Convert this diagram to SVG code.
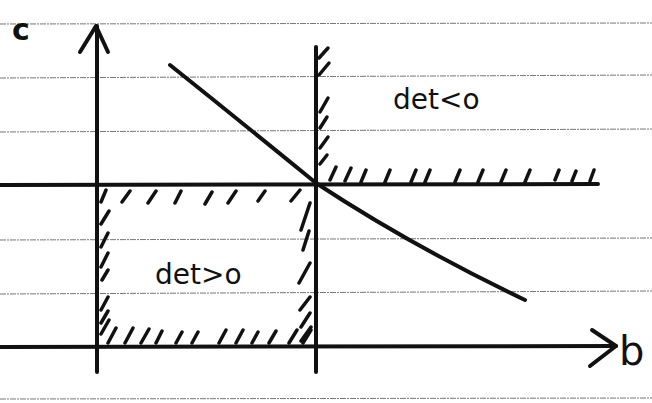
<svg xmlns="http://www.w3.org/2000/svg" width="652" height="403" viewBox="0 0 652 403">
<style>
.rule{stroke:#777;stroke-width:1;stroke-dasharray:6 1 2 1}
.ax{stroke:#111;stroke-width:4;fill:none;stroke-linecap:round;stroke-linejoin:round}
.h{stroke:#111;stroke-width:3.5;stroke-linecap:round;fill:none}
.t{font-family:"DejaVu Sans",sans-serif;fill:#111}
</style>
<rect width="652" height="403" fill="#fff"/>
<g id="rules">
<line class="rule" x1="0" y1="24" x2="652" y2="23"/>
<line class="rule" x1="0" y1="78" x2="652" y2="75"/>
<line class="rule" x1="0" y1="132" x2="652" y2="129"/>
<line class="rule" x1="0" y1="240" x2="652" y2="238"/>
<line class="rule" x1="0" y1="294" x2="652" y2="291"/>
<line class="rule" x1="0" y1="399" x2="652" y2="398"/>
</g>
<g id="axes">
<path class="ax" d="M97 372 L97 26"/>
<path class="ax" d="M80 52 L96 26 L108 52"/>
<path class="ax" d="M316 372 L316 47"/>
<path class="ax" d="M0 185 L598 184"/>
<path class="ax" d="M0 347 L616 346"/>
<path class="ax" d="M592 330 L616 346 L590 366"/>
</g>
<g id="curve">
<path class="ax" d="M170 65 Q245 125 316 183 Q410 245 525 300"/>
</g>
<g id="hatch-right">
<path class="h" d="M319 58 L328 48 M319 75 L329 63 M320 112 L328 98 M320 128 L327 117 M320 148 L328 137 M320 164 L327 155"/>
<path class="h" d="M330 180 L336 167 M345 181 L351 168 M361 182 L366 170 M385 182 L390 170 M411 182 L416 170 M425 182 L430 170 M455 182 L460 170 M478 182 L483 170 M501 182 L506 170 M525 182 L530 170 M555 180 L559 170 M572 181 L576 171 M590 181 L594 170"/>
</g>
<g id="hatch-box">
<path class="h" d="M101 202 L106 190 M122 202 L130 191 M148 203 L156 191 M175 203 L181 191 M205 204 L212 192 M228 203 L236 191 M258 201 L265 191 M291 201 L300 190"/>
<path class="h" d="M101 224 L109 211 M101 247 L108 233 M101 267 L108 253 M102 280 L108 270 M101 310 L108 297 M101 323 L108 311 M101 334 L109 320"/>
<path class="h" d="M108 343 L116 328 M125 343 L133 328 M141 343 L149 329 M156 343 L162 331 M176 343 L182 332 M192 343 L198 332 M219 343 L226 330 M236 343 L243 330 M252 343 L258 332 M269 343 L276 331 M289 343 L297 330 M303 343 L311 330"/>
<path class="h" d="M301 230 L310 203 M303 250 L309 231 M299 283 L310 263 M300 310 L310 297 M301 327 L310 313 M301 341 L311 327"/>
</g>
<g id="labels">
<text class="t" x="12" y="40" font-size="30" font-weight="bold">c</text>
<text class="t" x="619" y="365" font-size="40">b</text>
<text class="t" x="393" y="109" font-size="28">det&lt;o</text>
<text class="t" x="155" y="284" font-size="28">det&gt;o</text>
</g>
</svg>
